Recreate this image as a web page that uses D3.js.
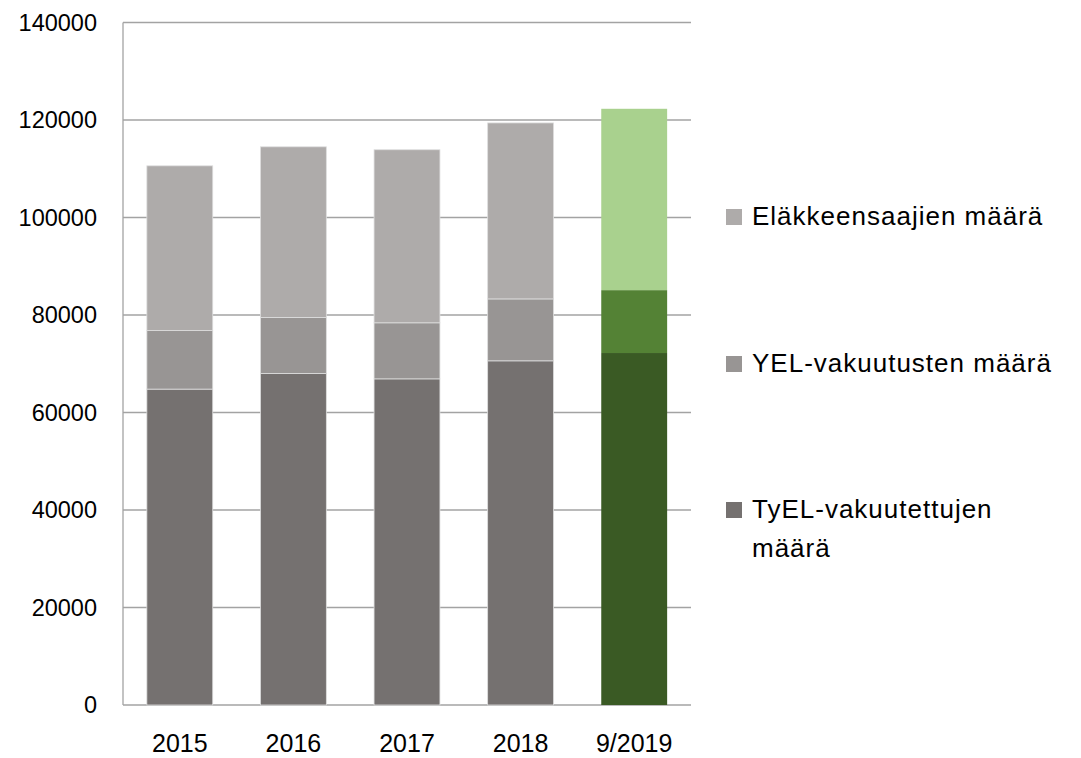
<!DOCTYPE html>
<html>
<head>
<meta charset="utf-8">
<script src="https://cdn.jsdelivr.net/npm/d3@7"></script>
<style>
  body { margin: 0; background: #fff; }
  text { font-family: "Liberation Sans", Arial, sans-serif; fill: #000; }
</style>
</head>
<body>
<div id="chart"></div>
<script>
// Data
const categories = ["2015", "2016", "2017", "2018", "9/2019"];
const tyel = [64800, 68000, 66900, 70600, 72200];
const yel = [12000, 11500, 11500, 12700, 12900];
const elakkeensaajat = [33800, 35000, 35500, 36100, 37200];
const yTicks = [0, 20000, 40000, 60000, 80000, 100000, 120000, 140000];
const legendLabels = ["Eläkkeensaajien määrä", "YEL-vakuutusten määrä", "TyEL-vakuutettujen määrä"];

const greyColors = ["#757170", "#989594", "#aeabaa"];
const greenColors = ["#3a5a24", "#548235", "#a9d18e"];

const width = 1081;
const height = 758;
const margin = { top: 22.5, left: 123, right: 691, bottom: 705 };

const svg = d3.select("#chart")
    .append("svg")
    .attr("width", width)
    .attr("height", height);

const xScale = d3.scaleBand()
    .domain(categories)
    .range([margin.left, margin.right])
    .paddingInner(0.42)
    .paddingOuter(0.21);

const yScale = d3.scaleLinear()
    .domain([0, 140000])
    .range([margin.bottom, margin.top]);

// Gridlines
svg.append("g")
    .selectAll("line")
    .data(yTicks)
    .enter().append("line")
    .attr("x1", margin.left)
    .attr("x2", margin.right)
    .attr("y1", d => yScale(d))
    .attr("y2", d => yScale(d))
    .attr("stroke", "#a3a3a3")
    .attr("stroke-width", 1.3);

// Left axis line
svg.append("line")
    .attr("x1", margin.left).attr("x2", margin.left)
    .attr("y1", yScale(140000)).attr("y2", yScale(0))
    .attr("stroke", "#a3a3a3")
    .attr("stroke-width", 1.3);

// Stack the series
const rows = categories.map((c, i) => ({
    cat: c,
    tyel: tyel[i],
    yel: yel[i],
    elak: elakkeensaajat[i]
}));
const keys = ["tyel", "yel", "elak"];
const series = d3.stack().keys(keys)(rows);

series.forEach((s, si) => {
    svg.append("g")
        .selectAll("rect")
        .data(s)
        .enter().append("rect")
        .attr("x", d => xScale(d.data.cat))
        .attr("width", xScale.bandwidth())
        .attr("y", d => yScale(d[1]))
        .attr("height", d => yScale(d[0]) - yScale(d[1]))
        .attr("fill", d => d.data.cat === "9/2019" ? greenColors[si] : greyColors[si])
        .attr("stroke", d => d.data.cat === "9/2019" ? "none" : "#dedede")
        .attr("stroke-width", 0.8);
});

// Y axis labels
svg.append("g")
    .selectAll("text")
    .data(yTicks)
    .enter().append("text")
    .attr("x", 97)
    .attr("y", d => yScale(d))
    .attr("dy", "0.36em")
    .attr("text-anchor", "end")
    .style("font-size", "23.5px")
    .text(d => d);

// X axis labels
svg.append("g")
    .selectAll("text")
    .data(categories)
    .enter().append("text")
    .attr("x", d => xScale(d) + xScale.bandwidth() / 2)
    .attr("y", 752)
    .attr("text-anchor", "middle")
    .style("font-size", "25px")
    .text(d => d);

// Legend
const legendY = [225, 372, 518];
const legendColors = [greyColors[2], greyColors[1], greyColors[0]];
const legend = svg.append("g");

legendLabels.forEach((label, i) => {
    legend.append("rect")
        .attr("x", 726)
        .attr("y", legendY[i] - 16)
        .attr("width", 16)
        .attr("height", 16)
        .attr("fill", legendColors[i]);

    const t = legend.append("text")
        .attr("x", 752)
        .attr("y", legendY[i])
        .style("font-size", "26px")
        .style("letter-spacing", "1px");
    if (i === 2) {
        t.append("tspan").text("TyEL-vakuutettujen");
        t.append("tspan").attr("x", 752).attr("dy", 39).text("määrä");
    } else {
        t.text(label);
    }
});
</script>
</body>
</html>
